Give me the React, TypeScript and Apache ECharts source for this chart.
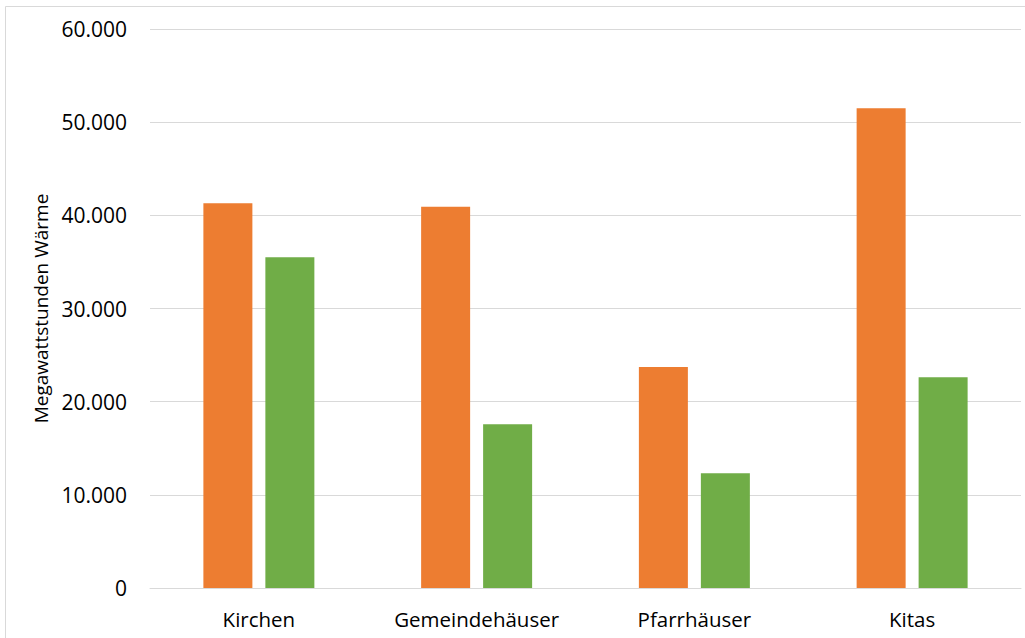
import React, { useEffect, useRef } from "react";
import * as echarts from "echarts";

// Heat consumption per building type (MWh)
const categories = ["Kirchen", "Gemeindehäuser", "Pfarrhäuser", "Kitas"];
const seriesOrange = [41290, 40930, 23720, 51490];
const seriesGreen = [35490, 17570, 12310, 22620];
const yTicks = { min: 0, max: 60000, interval: 10000 };
const yAxisTitle = "Megawattstunden Wärme";

const FONT = "'Open Sans', 'Noto Sans', sans-serif";

// German thousands separator: 10000 -> "10.000"
const formatDe = (v: number) =>
  String(Math.round(v)).replace(/\B(?=(\d{3})+(?!\d))/g, ".");

export default function App() {
  const ref = useRef<HTMLDivElement>(null);

  useEffect(() => {
    if (!ref.current) return;
    const chart = echarts.init(ref.current, undefined, { renderer: "svg" });
    chart.setOption({
      animation: false,
      backgroundColor: "#ffffff",
      graphic: [
        {
          type: "rect",
          shape: { x: 5.5, y: 6.5, width: 1040, height: 660 },
          style: { fill: "none", stroke: "#d9d9d9", lineWidth: 1 },
          silent: true,
        },
      ],
      grid: { left: 150, right: 4, top: 29, bottom: 50, containLabel: false },
      xAxis: {
        type: "category",
        data: categories,
        axisTick: { show: false },
        axisLine: { show: true, lineStyle: { color: "#d9d9d9", width: 1 } },
        axisLabel: {
          color: "#000000",
          fontFamily: FONT,
          fontSize: 20.5,
          margin: 20,
        },
      },
      yAxis: {
        type: "value",
        min: yTicks.min,
        max: yTicks.max,
        interval: yTicks.interval,
        name: yAxisTitle,
        nameLocation: "middle",
        nameGap: 98,
        nameRotate: 90,
        nameTextStyle: { color: "#000000", fontFamily: FONT, fontSize: 19 },
        axisLine: { show: false },
        axisTick: { show: false },
        splitLine: { lineStyle: { color: "#d9d9d9", width: 1 } },
        axisLabel: {
          color: "#000000",
          fontFamily: FONT,
          fontSize: 21,
          margin: 23,
          formatter: (v: number) => formatDe(v),
        },
      },
      series: [
        {
          type: "bar",
          data: seriesOrange,
          barWidth: 49,
          barGap: "26.5%",
          itemStyle: { color: "#ED7D31" },
        },
        {
          type: "bar",
          data: seriesGreen,
          barWidth: 49,
          itemStyle: { color: "#70AD47" },
        },
      ],
    });
    return () => chart.dispose();
  }, []);

  return (
    <div
      ref={ref}
      style={{
        position: "fixed",
        left: 0,
        top: 0,
        width: 1025,
        height: 638,
      }}
    />
  );
}
